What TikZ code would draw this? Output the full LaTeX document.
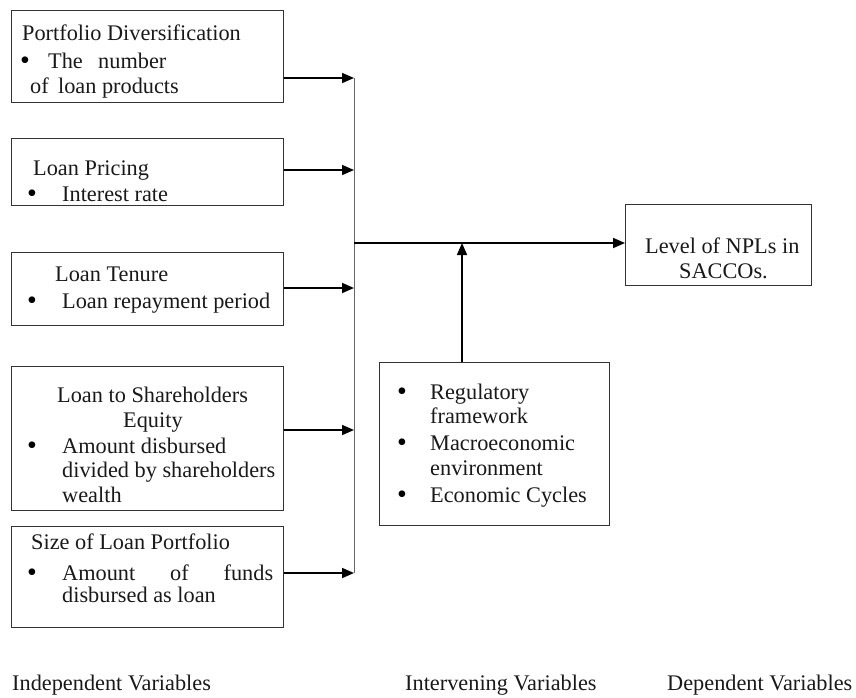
\documentclass[tikz,border=0pt]{standalone}
\usepackage{fontspec}
\setmainfont{Liberation Serif}
\usetikzlibrary{arrows.meta}
\begin{document}
\begin{tikzpicture}[x=1pt,y=-1pt,
  box/.style={draw=black!80, line width=1.4pt, inner sep=0pt, anchor=north west},
  txt/.style={anchor=base west, inner sep=0pt, font=\fontsize{22.3pt}{26pt}\selectfont, text=black!90},
  bul/.style={anchor=base, inner sep=0pt, font=\fontsize{28pt}{30pt}\selectfont},
  arr/.style={line width=1.7pt, -{Triangle[length=12pt,width=10pt]}},
  vline/.style={draw=black!60, line width=1pt}]
\useasboundingbox (0,0) rectangle (856,697);
% boxes
\node[box, minimum width=272pt, minimum height=92pt] (b1) at (11,10) {};
\node[box, minimum width=272pt, minimum height=67pt] (b2) at (11,138) {};
\node[box, minimum width=272pt, minimum height=73pt] (b3) at (11,252) {};
\node[box, minimum width=272pt, minimum height=144pt] (b4) at (11,366) {};
\node[box, minimum width=272pt, minimum height=101pt] (b5) at (11,526) {};
\node[box, minimum width=186pt, minimum height=81pt] (npl) at (625,204) {};
\node[box, minimum width=230pt, minimum height=163pt] (int) at (379,362) {};
% box 1 text
\node[txt] (t11) at (22,40) {Portfolio Diversification};
\node[bul] (u1) at (25,69) {•};
\node[txt] (t12) at (48,68) {The};
\node[txt] (t13) at (98,68) {number};
\node[txt] (t14) at (30,93) {of\, loan products};
% box 2
\node[txt] (t21) at (33,175) {Loan Pricing};
\node[bul] (u2) at (32,202) {•};
\node[txt] (t22) at (62,201) {Interest rate};
% box 3
\node[txt] (t31) at (55,281) {Loan Tenure};
\node[bul] (u3) at (32,309) {•};
\node[txt] (t32) at (62,308) {Loan repayment period};
% box 4
\node[txt] (t41) at (57,402) {Loan to Shareholders};
\node[txt] (t42) at (123,427) {Equity};
\node[bul] (u4) at (32,454) {•};
\node[txt] (t43) at (62,453) {Amount disbursed};
\node[txt] (t44) at (62,477) {divided by shareholders};
\node[txt] (t45) at (62,502) {wealth};
% box 5
\node[txt] (t51) at (31,549) {Size of Loan Portfolio};
\node[bul] (u5) at (32,581) {•};
\node[txt] (t52) at (62,580) {\makebox[211pt][l]{Amount\hfill of\hfill funds}};
\node[txt] (t53) at (62,602) {disbursed as loan};
% NPL box
\node[txt] (n1) at (645,253) {Level of NPLs in};
\node[txt] (n2) at (679,278) {SACCOs.};
% intervening box
\node[bul] (v1) at (402,400) {•};
\node[txt] (i1) at (430,399) {Regulatory};
\node[txt] (i2) at (430,423) {framework};
\node[bul] (v2) at (402,451) {•};
\node[txt] (i3) at (430,450) {Macroeconomic};
\node[txt] (i4) at (430,475) {environment};
\node[bul] (v3) at (402,503) {•};
\node[txt] (i5) at (430,502) {Economic Cycles};
% bottom labels
\node[txt] (l1) at (12,690) {Independent Variables};
\node[txt] (l2) at (405,690) {Intervening Variables};
\node[txt] (l3) at (667,690) {Dependent Variables};
% connectors
\coordinate (j1) at (354,78);
\coordinate (j2) at (354,170);
\coordinate (j3) at (354,288);
\coordinate (j4) at (354,430);
\coordinate (j5) at (354,573);
\coordinate (jm) at (354,243);
\coordinate (up) at (462,243);
\draw[vline] (j1) -- (j5);
\draw[arr] (b1.east |- j1) -- (j1);
\draw[arr] (b2.east |- j2) -- (j2);
\draw[arr] (b3.east |- j3) -- (j3);
\draw[arr] (b4.east |- j4) -- (j4);
\draw[arr] (b5.east |- j5) -- (j5);
\draw[arr] (jm) -- (npl.west |- jm);
\draw[arr] (int.north -| up) -- (up);
\end{tikzpicture}
\end{document}
